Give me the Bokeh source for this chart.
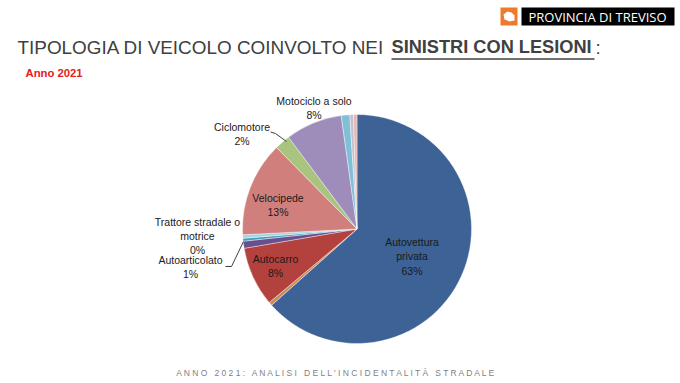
import numpy as np
from bokeh.plotting import figure
from bokeh.models import Range1d, ColumnDataSource
from bokeh.core.properties import value
from bokeh.embed import file_html
from bokeh.resources import INLINE

# ---- data (percent shares, clockwise from 12 o'clock) ----
categories = ["Autovettura privata", "Autovettura pubblica", "Autocarro", "Autoarticolato",
              "Trattore stradale o motrice", "Macchina agricola", "Velocipede", "Ciclomotore",
              "Motociclo a solo", "Autobus", "Quadriciclo", "Altro"]
shares = [63.4, 0.5, 8.4, 1.0, 0.4, 0.5, 13.4, 2.2, 8.0, 1.2, 0.5, 0.5]
colors = ["#3C6296", "#C98B5A", "#B3423F", "#6B4E8E", "#3F9DB8", "#A7D3E3", "#D17F7C",
          "#A8C47E", "#9E8CBA", "#7FC0D8", "#C4BFCE", "#E3B8B4"]
labeled = ["Autovettura privata", "Autocarro", "Autoarticolato", "Trattore stradale o motrice",
           "Velocipede", "Ciclomotore", "Motociclo a solo"]

title_normal = "TIPOLOGIA DI VEICOLO COINVOLTO NEI"
title_bold = "SINISTRI CON LESIONI"
subtitle = "Anno 2021"
footer = "ANNO 2021: ANALISI DELL'INCIDENTALITÀ STRADALE"
brand = "PROVINCIA DI TREVISO"

W, H = 680, 383
def Y(sy):  # screen y -> data y
    return H - sy

p = figure(width=W, height=H, x_range=Range1d(0, W), y_range=Range1d(0, H),
           output_backend="svg", toolbar_location=None, min_border=0)
p.axis.visible = False
p.grid.visible = False
p.outline_line_color = None
p.background_fill_color = "white"

# ---- pie ----
vals = np.array(shares, dtype=float)
frac = vals / vals.sum()
cum = np.concatenate([[0], np.cumsum(frac)])
start = np.pi / 2 - cum[:-1] * 2 * np.pi
end = np.pi / 2 - cum[1:] * 2 * np.pi
cx, cy, r = 356.5, Y(228.5), 114.5
src = ColumnDataSource(dict(cat=categories, start=start, end=end, color=colors))
p.wedge(x=cx, y=cy, radius=r, start_angle="start", end_angle="end", direction="clock",
        fill_color="color", line_color="white", line_width=0.4, source=src)

pct = {c: f"{round(v / vals.sum() * 100)}%" for c, v in zip(categories, vals)}
label_text = {
    "Autovettura privata": "Autovettura\nprivata\n" + pct["Autovettura privata"],
    "Autocarro": "Autocarro\n" + pct["Autocarro"],
    "Autoarticolato": "Autoarticolato\n" + pct["Autoarticolato"],
    "Trattore stradale o motrice": "Trattore stradale o\nmotrice\n" + pct["Trattore stradale o motrice"],
    "Velocipede": "Velocipede\n" + pct["Velocipede"],
    "Ciclomotore": "Ciclomotore\n" + pct["Ciclomotore"],
    "Motociclo a solo": "Motociclo a solo\n" + pct["Motociclo a solo"],
}
label_pos = {
    "Autovettura privata": (411.5, 256),
    "Autocarro": (275, 265.5),
    "Autoarticolato": (190, 266.5),
    "Trattore stradale o motrice": (197, 235.5),
    "Velocipede": (277.5, 204.5),
    "Ciclomotore": (241.5, 133.5),
    "Motociclo a solo": (313.5, 107.5),
}
lx = [label_pos[c][0] for c in labeled]
ly = [Y(label_pos[c][1]) for c in labeled]
lt = [label_text[c] for c in labeled]
p.text(x=lx, y=ly, text=lt, text_font=value("Liberation Sans"), text_font_size="10.5px",
       text_color="#1A1A1A", text_align="center", text_baseline="middle", text_line_height=1.17)

# leader lines
p.line(x=[270, 275, 286], y=[Y(131.5), Y(133), Y(141)], line_color="#404040", line_width=1)
p.line(x=[225, 231, 243], y=[Y(266), Y(266), Y(241)], line_color="#404040", line_width=1)

# ---- titles ----
p.text(x=[17], y=[Y(46.5)], text=[title_normal], text_font=value("Liberation Sans"),
       text_font_size="18.9px", text_color="#404040", text_align="left", text_baseline="middle")
p.text(x=[391], y=[Y(46.5)], text=[title_bold], text_font=value("Liberation Sans"),
       text_font_size="18.2px", text_font_style="bold", text_color="#404040",
       text_align="left", text_baseline="middle")
p.line(x=[391, 594], y=[Y(58.5), Y(58.5)], line_color="#404040", line_width=1.5)
p.text(x=[595], y=[Y(46.5)], text=[":"], text_font=value("Liberation Sans"),
       text_font_size="18.9px", text_color="#404040", text_align="left", text_baseline="middle")
p.text(x=[25], y=[Y(72)], text=[subtitle], text_font=value("Liberation Sans"),
       text_font_size="11.3px", text_font_style="bold", text_color="#E3201B",
       text_align="left", text_baseline="middle")

# footer (letter-spaced)
spaced = " ".join(ch if ch != " " else "\u00a0" for ch in footer)
p.text(x=[338.5], y=[Y(372)], text=[spaced], text_font=value("Liberation Sans"),
       text_font_size="8.5px", text_color="#7F7F7F", text_align="center", text_baseline="middle")

# ---- logo ----
p.quad(left=[500], right=[517], bottom=[Y(25)], top=[Y(7)], fill_color="#EE7A2C", line_color=None)
p.patch(x=[503, 507, 511, 514, 514, 509, 504], y=[Y(14), Y(11), Y(12), Y(15), Y(20), Y(21), Y(19)],
        fill_color="white", line_color=None)
p.quad(left=[521], right=[674], bottom=[Y(25)], top=[Y(7)], fill_color="#000000", line_color=None)
p.text(x=[597], y=[Y(16)], text=[brand], text_font=value("Open Sans"), text_font_size="13px",
       text_color="white", text_align="center", text_baseline="middle")

open("out.html", "w").write(file_html(p, INLINE))
